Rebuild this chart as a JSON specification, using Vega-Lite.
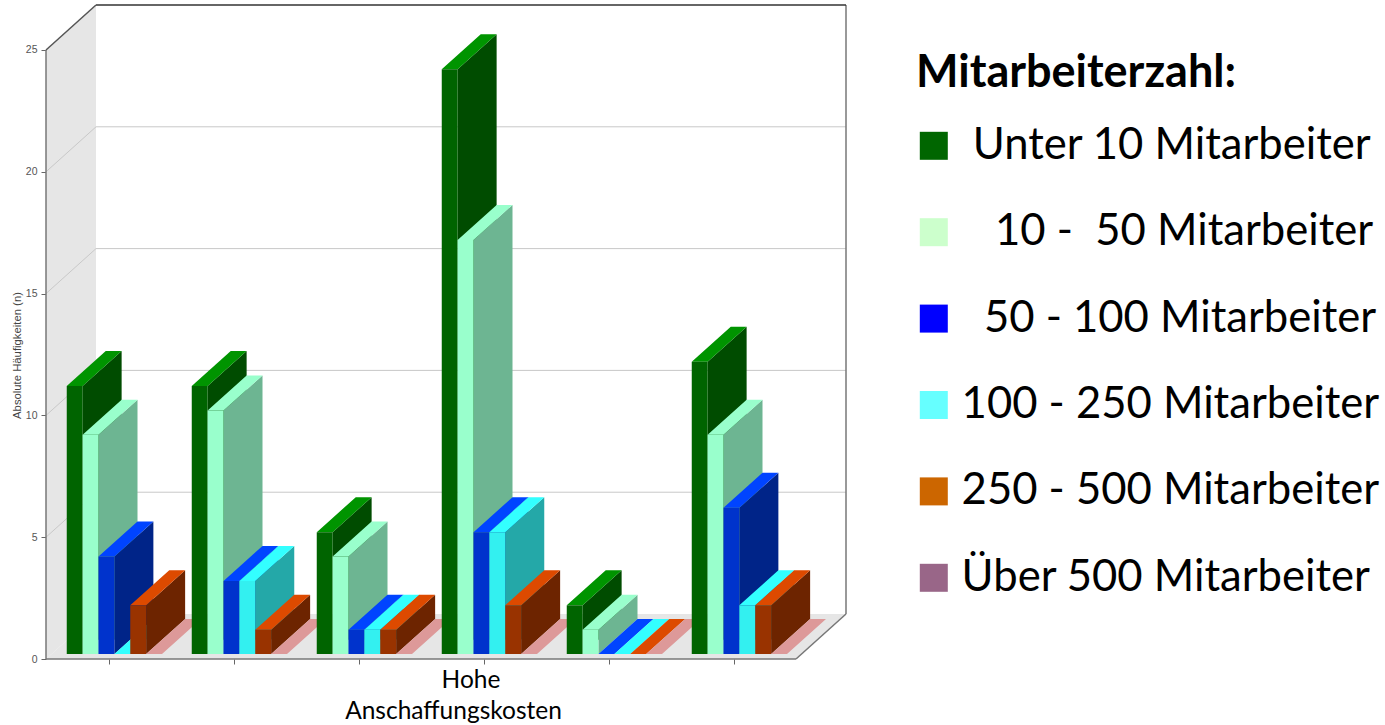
{
"$schema":"https://vega.github.io/schema/vega-lite/v6.json",
"width":800,"height":654,"autosize":{"type":"none"},
"padding":{"left":46,"top":5,"right":539,"bottom":66},
"background":"white",
"config":{"view":{"stroke":null}},
"datasets":{
"bars":[
{"g":0,"series":"Unter 10 Mitarbeiter","value":11},{"g":0,"series":"10 - 50 Mitarbeiter","value":9},{"g":0,"series":"50 - 100 Mitarbeiter","value":4},{"g":0,"series":"100 - 250 Mitarbeiter","value":0},{"g":0,"series":"250 - 500 Mitarbeiter","value":2},{"g":0,"series":"Über 500 Mitarbeiter","value":0},
{"g":1,"series":"Unter 10 Mitarbeiter","value":11},{"g":1,"series":"10 - 50 Mitarbeiter","value":10},{"g":1,"series":"50 - 100 Mitarbeiter","value":3},{"g":1,"series":"100 - 250 Mitarbeiter","value":3},{"g":1,"series":"250 - 500 Mitarbeiter","value":1},{"g":1,"series":"Über 500 Mitarbeiter","value":0},
{"g":2,"series":"Unter 10 Mitarbeiter","value":5},{"g":2,"series":"10 - 50 Mitarbeiter","value":4},{"g":2,"series":"50 - 100 Mitarbeiter","value":1},{"g":2,"series":"100 - 250 Mitarbeiter","value":1},{"g":2,"series":"250 - 500 Mitarbeiter","value":1},{"g":2,"series":"Über 500 Mitarbeiter","value":0},
{"g":3,"series":"Unter 10 Mitarbeiter","value":24},{"g":3,"series":"10 - 50 Mitarbeiter","value":17},{"g":3,"series":"50 - 100 Mitarbeiter","value":5},{"g":3,"series":"100 - 250 Mitarbeiter","value":5},{"g":3,"series":"250 - 500 Mitarbeiter","value":2},{"g":3,"series":"Über 500 Mitarbeiter","value":0},
{"g":4,"series":"Unter 10 Mitarbeiter","value":2},{"g":4,"series":"10 - 50 Mitarbeiter","value":1},{"g":4,"series":"50 - 100 Mitarbeiter","value":0},{"g":4,"series":"100 - 250 Mitarbeiter","value":0},{"g":4,"series":"250 - 500 Mitarbeiter","value":0},{"g":4,"series":"Über 500 Mitarbeiter","value":0},
{"g":5,"series":"Unter 10 Mitarbeiter","value":12},{"g":5,"series":"10 - 50 Mitarbeiter","value":9},{"g":5,"series":"50 - 100 Mitarbeiter","value":6},{"g":5,"series":"100 - 250 Mitarbeiter","value":2},{"g":5,"series":"250 - 500 Mitarbeiter","value":2},{"g":5,"series":"Über 500 Mitarbeiter","value":0}
],
"grid":[{"v":5},{"v":10},{"v":15},{"v":20}],
"corners2":[{"c":0},{"c":1}],
"corners4":[{"c":0},{"c":1},{"c":2},{"c":3}]
},
"layer":[
{"data":{"name":"corners2"},
 "transform":[{"calculate":"datum.c*0.4","as":"x"},{"calculate":"datum.c*1.847","as":"y0"},{"calculate":"25+datum.c*1.847","as":"y1"}],
 "mark":{"type":"area","color":"#E6E6E6"},
 "encoding":{
  "x":{"field":"x","type":"quantitative","scale":{"domain":[0,6.4],"nice":false,"zero":false},
   "axis":{"values":[0.5,1.5,2.5,3.5,4.5,5.5],"domain":false,"grid":false,"tickColor":"#666666","tickSize":5,"tickWidth":1,
    "labelExpr":"datum.value==3.5?'Hohe':''","labelFont":"Lato","labelFontSize":24.5,"labelColor":"#000000","labelOffset":-13,"labelPadding":4,"labelOverlap":false,"labelBound":false,"labelFlush":false,
    "title":"Anschaffungskosten","titleFont":"Lato","titleFontSize":24.5,"titleFontWeight":"normal","titleColor":"#000000","titleX":407,"titleY":52,"titleBaseline":"middle","titleAlign":"center"}},
  "y":{"field":"y0","type":"quantitative","stack":null,"scale":{"domain":[0,26.847],"nice":false,"zero":false},
   "axis":{"values":[0,5,10,15,20,25],"domain":false,"grid":false,"tickColor":"#666666","tickSize":5,"tickWidth":1,
    "labelFont":"Liberation Sans","labelFontSize":10.5,"labelColor":"#555555","labelPadding":4,"labelBound":false,"labelFlush":false,
    "title":"Absolute Häufigkeiten (n)","titleFont":"Liberation Sans","titleFontSize":11.3,"titleFontWeight":"normal","titleColor":"#444444","titleX":-24,"titleY":350,"titleAlign":"center"}},
  "y2":{"field":"y1"}}},
{"data":{"name":"corners4"},
 "transform":[{"calculate":"[0,0.4,6,6.4][datum.c]","as":"x"},{"calculate":"[0,0,0,1.847][datum.c]","as":"y0"},{"calculate":"[0,1.847,1.847,1.847][datum.c]","as":"y1"}],
 "mark":{"type":"area","color":"#E6E6E6"},
 "encoding":{"x":{"field":"x","type":"quantitative"},"y":{"field":"y0","type":"quantitative","stack":null},"y2":{"field":"y1"}}},
{"data":{"name":"grid"},
 "transform":[{"calculate":"datum.v+1.847","as":"b"}],
 "mark":{"type":"rule","color":"#C8C8C8","strokeWidth":1},
 "encoding":{"x":{"datum":0,"type":"quantitative"},"x2":{"datum":0.4},"y":{"field":"v","type":"quantitative"},"y2":{"field":"b"}}},
{"data":{"name":"grid"},
 "transform":[{"calculate":"datum.v+1.847","as":"b"}],
 "mark":{"type":"rule","color":"#C8C8C8","strokeWidth":1},
 "encoding":{"x":{"datum":0.4,"type":"quantitative"},"x2":{"datum":6.4},"y":{"field":"b","type":"quantitative"}}},
{"data":{"values":[{}]},"mark":{"type":"rule","color":"#777777","strokeWidth":1.5},
 "encoding":{"x":{"datum":0,"type":"quantitative"},"y":{"datum":0,"type":"quantitative"},"y2":{"datum":25}}},
{"data":{"values":[{}]},"mark":{"type":"rule","color":"#777777","strokeWidth":1.5},
 "encoding":{"x":{"datum":0,"type":"quantitative"},"x2":{"datum":6},"y":{"datum":0,"type":"quantitative"}}},
{"data":{"values":[{}]},"mark":{"type":"rule","color":"#777777","strokeWidth":1.5},
 "encoding":{"x":{"datum":6,"type":"quantitative"},"x2":{"datum":6.4},"y":{"datum":0,"type":"quantitative"},"y2":{"datum":1.847}}},
{"data":{"values":[{}]},"mark":{"type":"rule","color":"#777777","strokeWidth":1.5},
 "encoding":{"x":{"datum":6.4,"type":"quantitative"},"y":{"datum":1.847,"type":"quantitative"},"y2":{"datum":26.847}}},
{"data":{"values":[{}]},"mark":{"type":"rule","color":"#333333","strokeWidth":1.5},
 "encoding":{"x":{"datum":0.4,"type":"quantitative"},"x2":{"datum":6.4},"y":{"datum":26.847,"type":"quantitative"}}},
{"data":{"values":[{}]},"mark":{"type":"rule","color":"#555555","strokeWidth":1.5},
 "encoding":{"x":{"datum":0,"type":"quantitative"},"x2":{"datum":0.4},"y":{"datum":25,"type":"quantitative"},"y2":{"datum":26.847}}},
{"data":{"name":"bars"},
 "transform":[
  {"calculate":"indexof(['Unter 10 Mitarbeiter','10 - 50 Mitarbeiter','50 - 100 Mitarbeiter','100 - 250 Mitarbeiter','250 - 500 Mitarbeiter','Über 500 Mitarbeiter'],datum.series)","as":"s"},
  {"calculate":"0.166+datum.g+datum.s*0.127","as":"x0"},
  {"calculate":"datum.x0+0.127","as":"x1"},
  {"calculate":"0.205+datum.value","as":"top"},
  {"calculate":"datum.g*10+datum.s","as":"bar"},
  {"calculate":"['side','upper','front']","as":"face"},
  {"flatten":["face"]},
  {"calculate":"[0,1,2,3]","as":"pt"},
  {"flatten":["pt"]},
  {"filter":"datum.pt<2||datum.face=='upper'"},
  {"calculate":"min(datum.pt,1)","as":"t"},
  {"calculate":"datum.face=='front'?datum.x0+0.127*datum.t:datum.face=='side'?datum.x1+0.312*datum.t:[datum.x0,datum.x1,datum.x0+0.312,datum.x1+0.312][datum.pt]","as":"px"},
  {"calculate":"datum.face=='front'?0.205:datum.face=='side'?0.205+1.437*datum.t:datum.top+[0,0,1.437*(0.312-0.127)/0.312,1.437][datum.pt]","as":"py"},
  {"calculate":"datum.face=='front'?datum.top:datum.face=='side'?datum.top+1.437*datum.t:datum.top+[0,1.437*0.127/0.312,1.437,1.437][datum.pt]","as":"py2"},
  {"calculate":"datum.s+datum.face","as":"key"},
  {"calculate":"datum.bar+datum.face","as":"poly"}
 ],
 "mark":{"type":"area","interpolate":"linear"},
 "encoding":{
  "x":{"field":"px","type":"quantitative"},
  "y":{"field":"py","type":"quantitative","stack":null},
  "y2":{"field":"py2"},
  "detail":{"field":"poly"},
  "fill":{"field":"key","type":"nominal","legend":null,"scale":{
   "domain":["0front","0side","0upper","1front","1side","1upper","2front","2side","2upper","3front","3side","3upper","4front","4side","4upper","5front","5side","5upper"],
   "range":["#006400","#004C00","#009400","#99FFCC","#6DB592","#99FFCC","#0033CC","#002488","#0044FF","#33F0F0","#24A8A8","#33FFFF","#993300","#6D2400","#DD4A00","#DD9999","#A06C6C","#DD9999"]}}}},
{"data":{"name":"bars"},
 "mark":{"type":"point","filled":true,"opacity":0},
 "encoding":{
  "x":{"field":"g","type":"quantitative"},
  "y":{"field":"value","type":"quantitative"},
  "fill":{"field":"series","type":"nominal",
   "scale":{"domain":["Unter 10 Mitarbeiter","10 - 50 Mitarbeiter","50 - 100 Mitarbeiter","100 - 250 Mitarbeiter","250 - 500 Mitarbeiter","Über 500 Mitarbeiter"],
    "range":["#006600","#CCFFCC","#0000FF","#66FFFF","#CC6600","#996688"]},
   "legend":{"orient":"none","legendX":870,"legendY":46,"padding":0,"title":"Mitarbeiterzahl:",
    "titleFont":"Lato","titleFontSize":45,"titleFontWeight":"bold","titleColor":"#000000","titlePadding":28,"titleLimit":600,
    "labelFont":"Lato","labelFontSize":43.6,"labelColor":"#000000","labelOffset":6,"labelLimit":600,
    "symbolType":"square","symbolSize":784,"symbolOpacity":1,"symbolStrokeWidth":0,"symbolOffset":-4,"rowPadding":41.4,
    "labelExpr":"datum.label=='Unter 10 Mitarbeiter'?'\u200b\u00a0'+datum.label:datum.label=='10 - 50 Mitarbeiter'?'\u200b\u00a0\u00a0\u00a010 -\u00a0\u00a050 Mitarbeiter':datum.label=='50 - 100 Mitarbeiter'?'\u200b\u00a0\u00a0'+datum.label:datum.label"}}}}
],
"resolve":{"scale":{"fill":"independent"}}
}
